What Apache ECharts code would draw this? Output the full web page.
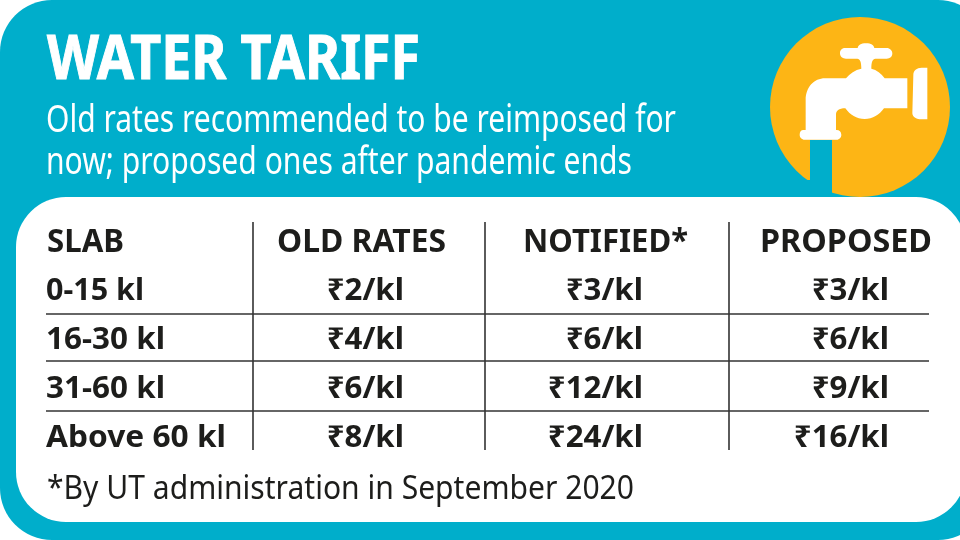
<!DOCTYPE html>
<html><head><meta charset="utf-8">
<style>html,body{margin:0;padding:0;background:#fff}#c{width:960px;height:540px}</style>
<script src="https://cdn.jsdelivr.net/npm/echarts@6/dist/echarts.min.js"></script>
</head><body><div id="c"></div>
<script>
const title = "WATER TARIFF";
const subtitle1 = "Old rates recommended to be reimposed for";
const subtitle2 = "now; proposed ones after pandemic ends";
const footnote = "*By UT administration in September 2020";
const columns = ["SLAB", "OLD RATES", "NOTIFIED*", "PROPOSED"];
const slabs = ["0-15 kl", "16-30 kl", "31-60 kl", "Above 60 kl"];
const oldRates = [2, 4, 6, 8];
const notified = [3, 6, 12, 24];
const proposed = [3, 6, 9, 16];

const TEAL = "#00aecb", INK = "#1d1d1b", GOLD = "#fdb515";
const ctx = document.createElement("canvas").getContext("2d");
function fit(text, font, width){ ctx.font = font; return width / ctx.measureText(text).width; }

const fontHead = 'bold 33px "Noto Sans"';
const fontCell = 'bold 30px "Noto Sans"';
const fontSub = '38px "Noto Sans"';
const fontFoot = '32px "Noto Sans"';
const fontTitle = 'bold 61px "Noto Sans"';

// target text extents for each header and slab label
const headX = [47, 277, 523, 760], headW = [77, 169, 165, 172];
const slabW = [98, 119, 119, 180];
const rateRight = [404, 643, 889], rateScale = 1.04;

const rates = [oldRates, notified, proposed];
const rows = ["head"].concat(slabs);
const cellData = [];
columns.forEach((c, ci) => cellData.push([ci, 0, c]));
slabs.forEach((s, ri) => {
  cellData.push([0, ri + 1, s]);
  rates.forEach((r, k) => cellData.push([k + 1, ri + 1, "\u20b9" + r[ri] + "/kl"]));
});

function renderCell(params, api){
  const ci = api.value(0), ri = api.value(1), text = cellData[params.dataIndex][2];
  const p = api.coord([0, ri]);
  const isHead = ri === 0;
  const font = isHead ? fontHead : fontCell;
  let x, sx, align = "left";
  if (isHead) { x = headX[ci]; sx = fit(text, font, headW[ci]); }
  else if (ci === 0) { x = 46; sx = fit(text, font, slabW[ri - 1]); }
  else { x = rateRight[ci - 1]; sx = rateScale; align = "right"; }
  return { type: "text", x: x, y: p[1], scaleX: sx,
    style: { text: text, font: font, fill: INK, textAlign: align, textVerticalAlign: "middle" } };
}

const tapPath = "M378 130 C362 130 355 136 353 144 L316 144 C304 144 300 152 300 160 C300 170 308 176 318 176 L352 176 C360 178 364 184 364 206 C345 210 330 220 318 235 L255 235 C222 235 197 262 197 300 L197 390 L190 390 C183 390 179 396 179 404 C179 412 185 419 194 419 L290 419 C298 419 304 412 304 404 C304 396 298 390 290 390 L288 390 L288 345 C288 332 296 325 316 325 C330 345 350 357 374 357 C398 357 418 345 432 325 L502 325 L502 235 L434 235 C424 220 410 210 394 206 C394 184 398 178 406 176 L440 176 C450 176 457 170 457 160 C457 152 450 144 440 144 L403 144 C401 136 394 130 378 130 Z M562 203 L545 203 C530 203 520 212 520 225 L517 340 C518 352 530 358 545 358 L562 358 Z";
echarts.graphic.registerShape("tap", echarts.graphic.extendPath(tapPath, {}));

const chart = echarts.init(document.getElementById("c"), null, { renderer: "canvas" });
chart.setOption({
  animation: false,
  backgroundColor: "#ffffff",
  grid: { left: 0, right: 0, top: 218, height: 245 },
  xAxis: { type: "category", data: columns, show: false },
  yAxis: { type: "category", data: rows, inverse: true, show: false },
  graphic: { elements: [
    { type: "rect", z: 0, shape: { x: 0, y: 0, width: 990, height: 540, r: 52 }, style: { fill: TEAL } },
    { type: "circle", z: 1, shape: { cx: 860, cy: 107, r: 90 }, style: { fill: GOLD } },
    { type: "rect", z: 2, shape: { x: 810, y: 140, width: 22, height: 57 }, style: { fill: TEAL } },
    { type: "rect", z: 2, shape: { x: 790, y: 180, width: 20, height: 17 }, style: { fill: TEAL } },
    { type: "tap", z: 3, x: 740, y: 0, scaleX: 1 / 3, scaleY: 1 / 3, style: { fill: "#ffffff" } },
    { type: "rect", z: 4, shape: { x: 16, y: 197, width: 950, height: 325, r: 50 }, style: { fill: "#ffffff" } },
    { type: "text", z: 5, x: 47, y: 62, scaleX: fit(title, fontTitle, 373), style: { text: title, font: fontTitle, fill: "#fff", stroke: "#fff", lineWidth: 1, textVerticalAlign: "middle" } },
    { type: "text", z: 5, x: 46, y: 121, scaleX: fit(subtitle1, fontSub, 630), style: { text: subtitle1, font: fontSub, fill: "#fff", textVerticalAlign: "middle" } },
    { type: "text", z: 5, x: 46, y: 163, scaleX: fit(subtitle2, fontSub, 586), style: { text: subtitle2, font: fontSub, fill: "#fff", textVerticalAlign: "middle" } },
    { type: "text", z: 5, x: 47, y: 490, scaleX: fit(footnote, fontFoot, 587), style: { text: footnote, font: fontFoot, fill: INK, textVerticalAlign: "middle" } },
    ...[253, 485, 729].map(x => ({ type: "line", z: 5, shape: { x1: x, y1: 222, x2: x, y2: 450 }, style: { stroke: "#333", lineWidth: 1.6 } })),
    ...[314, 361, 411].map(y => ({ type: "line", z: 5, shape: { x1: 46, y1: y, x2: 929, y2: y }, style: { stroke: "#333", lineWidth: 1.6 } }))
  ]},
  series: [{
    type: "custom", coordinateSystem: "cartesian2d", z: 10, silent: true,
    clip: false, encode: { x: 0, y: 1 },
    renderItem: renderCell, data: cellData.map(d => [d[0], d[1]])
  }]
});
</script></body></html>
